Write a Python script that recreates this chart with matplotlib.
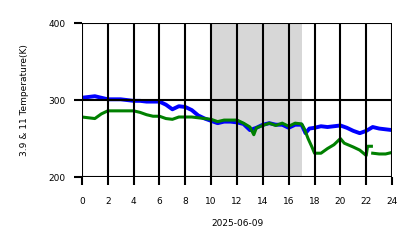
import numpy as np
import matplotlib
matplotlib.use("Agg")
import matplotlib.pyplot as plt

# hours of day and brightness temperatures
hours_39 = [0, 0.5, 1, 1.5, 2, 2.5, 3, 3.5, 4, 4.5, 5, 5.5, 6, 6.5, 7, 7.5, 8,
            8.5, 9, 9.5, 10, 10.5, 11, 11.5, 12, 12.5, 13, 13.5, 14, 14.5, 15,
            15.5, 16, 16.5, 17, 17.3, 17.6, 18, 18.5, 19, 19.5, 20, 20.5, 21,
            21.5, 22, 22.5, 23, 23.5, 24]
temp_39 = [303, 304, 305, 303, 301, 301, 301, 300, 299, 299, 298, 298, 298,
           294, 288, 292, 291, 287, 280, 276, 273, 270, 272, 272, 271, 269,
           261, 264, 268, 270, 268, 268, 264, 268, 268, 257, 263, 264, 266,
           265, 266, 267, 264, 260, 257, 260, 265, 263, 262, 261]

hours_11 = [0, 0.5, 1, 1.5, 2, 2.5, 3, 3.5, 4, 4.5, 5, 5.5, 6, 6.5, 7, 7.5, 8,
            8.5, 9, 9.5, 10, 10.5, 11, 11.5, 12, 12.5, 13, 13.3, 13.5, 14,
            14.5, 15, 15.5, 16, 16.5, 17, 17.2, 17.5, 17.8, 18, 18.5, 19, 19.5,
            20, 20.3, 21, 21.5, 22, 22.1, 22.4, 22.45, 22.5, 23, 23.5, 24]
temp_11 = [278, 277, 276, 282, 286, 286, 286, 286, 286, 284, 281, 279, 279,
           276, 275, 278, 278, 278, 277, 276, 275, 272, 274, 274, 274, 270,
           265, 255, 264, 267, 270, 267, 270, 266, 270, 269, 263, 250, 239,
           231, 231, 237, 242, 250, 244, 239, 235, 228, 240, 240, np.nan,
           231, 230, 230, 232]

fig = plt.figure(figsize=(4.18, 2.48), dpi=100)
ax = fig.add_axes([0.196, 0.286, 0.742, 0.621])

ax.axvspan(10, 17, color="#b0b0b0", alpha=0.5, lw=0, zorder=0)
ax.plot(hours_39, temp_39, color="blue", lw=2.8, zorder=2)
ax.plot(hours_11, temp_11, color="green", lw=2.2, zorder=2.1)

ax.set_xlim(0, 24)
ax.set_ylim(200, 400)
ax.set_xticks(range(0, 25, 2))
ax.set_yticks([200, 300, 400])
ax.grid(True, color="black", lw=1.5, zorder=2.5)
ax.set_axisbelow(False)
for s in ax.spines.values():
    s.set_visible(False)
ax.tick_params(labelsize=6.5, length=6, width=1.5, color="black", pad=6)
ax.tick_params(axis="x", pad=8)
ax.set_xlabel("2025-06-09", fontsize=6.5, labelpad=10)
ax.set_ylabel("3.9 & 11 Temperature(K)", fontsize=6.5, labelpad=14)

fig.savefig("out.png", dpi=100)
